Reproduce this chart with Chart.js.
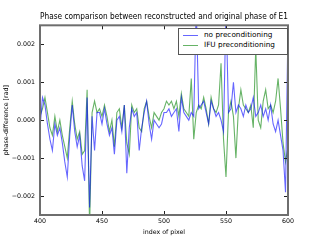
<!DOCTYPE html>
<html>
<head>
<meta charset="utf-8">
<script src="https://cdn.jsdelivr.net/npm/chart.js@4/dist/chart.umd.min.js"></script>
<style>
  html, body { margin: 0; padding: 0; background: #fff; }
  #wrap { position: relative; width: 320px; height: 240px; }
  #legend {
    position: absolute; left: 178px; top: 28px; width: 108px; height: 25px;
    border: 1px solid #555; background: #fff;
    font-family: "DejaVu Sans", sans-serif; font-size: 7.3px; color: #000;
  }
  #legend .item { position: absolute; left: 4px; height: 10px; line-height: 10px; white-space: nowrap; }
  #legend .swatch { display: inline-block; width: 15px; height: 0; vertical-align: middle; margin-right: 6px; }
</style>
</head>
<body>
<div id="wrap">
  <canvas id="chart" width="320" height="240"></canvas>
  <div id="legend"></div>
</div>
<script>
// pixel index, sampled every 2 pixels
const pixelIndex = Array.from({ length: 101 }, (_, i) => 400 + 2 * i);

const noPrecond = [
  -0.0002, 0.0006, 0.0004, -0.0001, -0.0005, -0.0008, -0.0001, -0.0004, -0.0002, -0.0006,
  -0.0011, -0.0015, -0.0004, 0.0004, -0.0003, -0.0007, -0.0004, -0.0012, -0.0016, 0.0006,
  -0.0023, 0.0001, -0.0008, 0.0002, 0.0002, -0.0001, 0.0003, -0.0001, -0.0004, -0.0002,
  -0.0009, 0.0000, 0.0001, -0.0003, 0.0004, -0.0014, -0.0002, 0.0003, 0.0001, 0.0002,
  -0.0008, -0.0002, 0.0002, 0.0005, -0.0001, -0.0005, 0.0000, -0.0001, -0.0002, -0.0001,
  0.0002, 0.0002, 0.0003, 0.0001, 0.0002, 0.0003, -0.0003, 0.0006, 0.0002, 0.0001,
  0.0000, 0.0002, 0.0001, 0.0030, 0.0003, 0.0004, 0.0005, 0.0002, -0.0001, 0.0005,
  0.0003, 0.0001, 0.0002, 0.0000, -0.0003, 0.0030, 0.0002, 0.0003, 0.0010, 0.0002,
  0.0004, 0.0003, 0.0001, 0.0004, 0.0002, 0.0003, 0.0006, 0.0001, 0.0002, 0.0004,
  0.0001, 0.0003, 0.0000, 0.0004, -0.0001, -0.0003, 0.0000, -0.0004, -0.0008, -0.0019,
  0.0025
];

const ifuPrecond = [
  0.0001, 0.0003, 0.0006, 0.0002, -0.0002, -0.0004, 0.0001, -0.0003, 0.0000, -0.0004,
  -0.0007, -0.0010, -0.0002, 0.0005, -0.0001, -0.0005, -0.0003, -0.0009, -0.0008, 0.0008,
  -0.0028, 0.0002, 0.0005, 0.0002, 0.0003, 0.0001, 0.0004, 0.0001, -0.0003, 0.0000,
  -0.0007, 0.0002, 0.0003, -0.0002, 0.0004, -0.0006, -0.0009, 0.0004, 0.0002, 0.0003,
  -0.0002, -0.0003, 0.0003, 0.0005, 0.0001, -0.0002, 0.0002, 0.0001, 0.0000, 0.0002,
  0.0003, 0.0005, 0.0004, 0.0005, 0.0003, 0.0005, 0.0001, 0.0007, 0.0003, 0.0002,
  0.0001, 0.0011, -0.0005, 0.0002, 0.0004, 0.0003, 0.0006, 0.0003, -0.0001, 0.0006,
  0.0003, 0.0002, 0.0004, 0.0015, -0.0005, -0.0015, 0.0002, 0.0005, 0.0001, -0.0010,
  0.0003, 0.0008, 0.0004, 0.0003, 0.0002, 0.0004, -0.0002, 0.0019, 0.0000, -0.0002,
  0.0005, 0.0008, 0.0003, 0.0004, 0.0002, 0.0005, 0.0011, 0.0003, -0.0006, -0.0011,
  -0.0007
];

const seriesLabels = ['no preconditioning', 'IFU preconditioning'];
const seriesColors = ['rgba(0,0,255,0.6)', 'rgba(0,128,0,0.6)'];
const xTicks = [400, 450, 500, 550, 600];
const yTicks = [-0.002, -0.001, 0, 0.001, 0.002];

const font = { family: '"DejaVu Sans", sans-serif' };

// matplotlib-style frame with inward ticks on all four sides
const framePlugin = {
  id: 'frame',
  afterDraw(chart) {
    const { ctx, chartArea: a, scales } = chart;
    ctx.save();
    ctx.strokeStyle = '#222';
    ctx.lineWidth = 1;
    ctx.beginPath();
    scales.x.ticks.forEach(t => {
      const px = Math.round(scales.x.getPixelForValue(t.value)) + 0.5;
      ctx.moveTo(px, a.bottom); ctx.lineTo(px, a.bottom - 4);
      ctx.moveTo(px, a.top); ctx.lineTo(px, a.top + 4);
    });
    scales.y.ticks.forEach(t => {
      const py = Math.round(scales.y.getPixelForValue(t.value)) + 0.5;
      ctx.moveTo(a.left, py); ctx.lineTo(a.left + 4, py);
      ctx.moveTo(a.right, py); ctx.lineTo(a.right - 4, py);
    });
    ctx.stroke();
    ctx.strokeStyle = '#6e6e6e';
    ctx.lineWidth = 2;
    ctx.strokeRect(a.left, a.top, a.right - a.left, a.bottom - a.top);
    ctx.restore();
  }
};

const ctx = document.getElementById('chart').getContext('2d');
new Chart(ctx, {
  type: 'line',
  data: {
    datasets: [noPrecond, ifuPrecond].map((vals, i) => ({
      label: seriesLabels[i],
      data: pixelIndex.map((x, j) => ({ x: x, y: vals[j] })),
      borderColor: seriesColors[i],
      borderWidth: 1.1,
      pointRadius: 0,
      tension: 0,
      fill: false
    }))
  },
  options: {
    responsive: false,
    animation: false,
    layout: { padding: { left: 0, right: 32, top: 0, bottom: 0 } },
    plugins: {
      legend: { display: false },
      tooltip: { enabled: false },
      title: {
        display: true,
        fullSize: false,
        text: 'Phase comparison between reconstructed and original phase of E1',
        color: '#000',
        font: { ...font, size: 8.6, weight: 'normal' },
        padding: { top: 12, bottom: 3 }
      }
    },
    scales: {
      x: {
        type: 'linear',
        min: 400, max: 600,
        grid: { display: false, drawTicks: false },
        border: { display: false },
        afterBuildTicks: s => { s.ticks = xTicks.map(v => ({ value: v })); },
        afterFit: s => { s.height = 25; },
        ticks: { color: '#000', font: { ...font, size: 6.3 }, padding: 3, maxRotation: 0 },
        title: {
          display: true, text: 'index of pixel', color: '#000',
          font: { ...font, size: 6.3 }, padding: { top: 2, bottom: 4 }
        }
      },
      y: {
        min: -0.0025, max: 0.0025,
        grid: { display: false, drawTicks: false },
        border: { display: false },
        afterBuildTicks: s => { s.ticks = yTicks.map(v => ({ value: v })); },
        afterFit: s => { s.width = 40; },
        ticks: {
          color: '#000', font: { ...font, size: 6.3 }, padding: 5,
          callback: v => (v < 0 ? '\u2212' : '') + Math.abs(v).toFixed(3)
        },
        title: {
          display: true, text: 'phase-difference [rad]', color: '#000',
          font: { ...font, size: 6.3 }, padding: { top: 3, bottom: 0 }
        }
      }
    }
  },
  plugins: [framePlugin]
});

// legend box inside the plot, top right
const legend = document.getElementById('legend');
legend.innerHTML = seriesLabels.map((lab, i) =>
  `<div class="item" style="top:${1 + i * 10}px"><span class="swatch" style="border-top:1px solid ${seriesColors[i]}"></span>${lab}</div>`
).join('');
</script>
</body>
</html>
